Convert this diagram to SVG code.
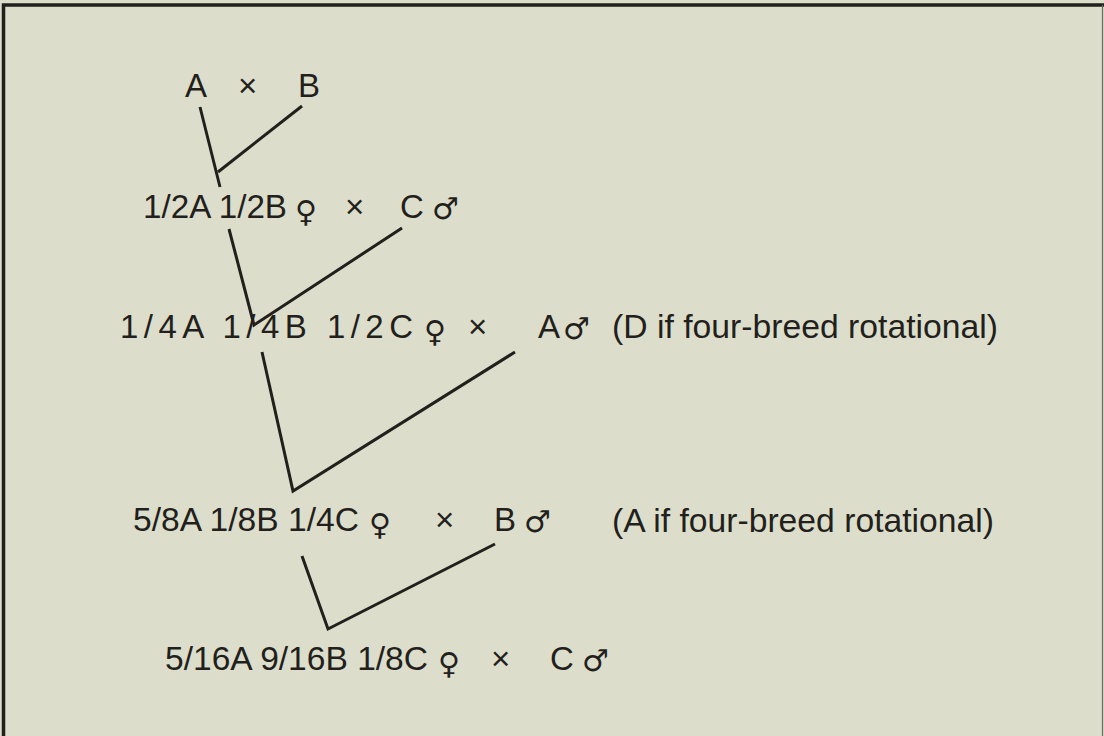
<svg xmlns="http://www.w3.org/2000/svg" width="1104" height="736" viewBox="0 0 1104 736">
<style>
.t{font-family:"Liberation Sans",Arial,Helvetica,sans-serif;font-size:33px;fill:#231f1c}
.s{font-family:"DejaVu Sans",sans-serif;font-size:30px;fill:#231f1c}
.c{stroke:#231f1c;stroke-width:3;fill:none;stroke-linejoin:miter}
</style>
<rect width="1104" height="736" fill="#dcdecb"/>
<g id="frame">
<path d="M3.5,736 V5 H1104" fill="none" stroke="#231f1c" stroke-width="3.5"/>
<line x1="1102.5" y1="5" x2="1102.5" y2="736" stroke="#6a6a60" stroke-width="1.2"/>
</g>
<g id="connectors" class="c">
<path d="M200,107 L220,187"/>
<path d="M302,106 L218,172"/>
<path d="M229,229 L254,325 L402,228"/>
<path d="M262,352 L293,491 L515,352"/>
<path d="M302,556 L328,629 L495,544"/>
</g>
<g id="gen0">
<text class="t" x="185" y="97">A</text>
<text class="t" x="238" y="97">×</text>
<text class="t" x="298" y="97">B</text>
</g>
<g id="gen1">
<text class="t" x="143" y="218" textLength="144" lengthAdjust="spacingAndGlyphs">1/2A 1/2B</text>
<text class="s" x="295" y="222">♀</text>
<text class="t" x="345" y="218">×</text>
<text class="t" x="400" y="218">C</text>
<text class="s" x="432" y="219">♂</text>
</g>
<g id="gen2">
<text class="t" x="120" y="338" textLength="293" lengthAdjust="spacing">1/4A 1/4B 1/2C</text>
<text class="s" x="424" y="342">♀</text>
<text class="t" x="468" y="338">×</text>
<text class="t" x="538" y="338">A</text>
<text class="s" x="563" y="339">♂</text>
<text class="t" x="612" y="338" textLength="386" lengthAdjust="spacingAndGlyphs">(D if four-breed rotational)</text>
</g>
<g id="gen3">
<text class="t" x="133" y="531" textLength="226" lengthAdjust="spacingAndGlyphs">5/8A 1/8B 1/4C</text>
<text class="s" x="369" y="535">♀</text>
<text class="t" x="435" y="531">×</text>
<text class="t" x="494" y="531">B</text>
<text class="s" x="524" y="532">♂</text>
<text class="t" x="612" y="532" textLength="382" lengthAdjust="spacingAndGlyphs">(A if four-breed rotational)</text>
</g>
<g id="gen4">
<text class="t" x="165" y="670" textLength="263" lengthAdjust="spacingAndGlyphs">5/16A 9/16B 1/8C</text>
<text class="s" x="438" y="674">♀</text>
<text class="t" x="491" y="670">×</text>
<text class="t" x="550" y="670">C</text>
<text class="s" x="582" y="671">♂</text>
</g>
</svg>
